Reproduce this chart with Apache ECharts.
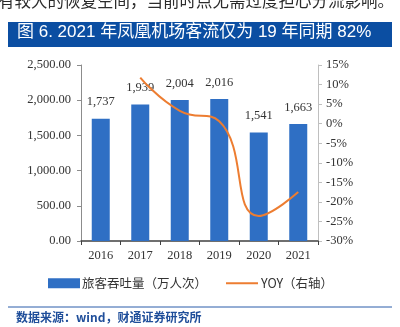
<!DOCTYPE html>
<html>
<head>
<meta charset="utf-8">
<script src="https://cdn.jsdelivr.net/npm/echarts@6/dist/echarts.min.js"></script>
<style>
  html, body { margin: 0; padding: 0; background: #fff; }
  #chart { width: 400px; height: 327px; }
</style>
</head>
<body>
<div id="chart"></div>
<script>
// 凤凰机场旅客吞吐量及同比
const years = ['2016', '2017', '2018', '2019', '2020', '2021'];
const passengers = [1737, 1939, 2004, 2016, 1541, 1663];     // 万人次
const yoy = [null, 11.8, 3.3, 0.6, -23.6, -17.5];           // %，2021 对比 2019
const leftTicks = { min: 0, max: 2500, interval: 500 };
const rightTicks = { min: -30, max: 15, interval: 5 };

const serif = '"Liberation Serif", "Times New Roman", serif';
const cjk = '"Noto Sans CJK SC", sans-serif';
const sansMix = '"Liberation Sans", "Noto Sans CJK SC", sans-serif';

const barName = '旅客吞吐量（万人次）';
const lineName = 'YOY（右轴）';

const chart = echarts.init(document.getElementById('chart'), null, { renderer: 'canvas' });

chart.setOption({
  animation: false,
  backgroundColor: '#ffffff',
  grid: { left: 81, right: 82, top: 65, bottom: 86, containLabel: false },
  legend: [
    {
      top: 277, left: 48, padding: 0,
      itemWidth: 32, itemHeight: 10,
      textStyle: { fontFamily: cjk, fontSize: 12.5, color: '#333', padding: [0, 0, 0, -3] },
      data: [{ name: barName, icon: 'rect' }]
    },
    {
      top: 277, left: 226, padding: 0,
      itemWidth: 32, itemHeight: 2,
      textStyle: { fontFamily: cjk, fontSize: 12.5, color: '#333', padding: [0, 0, 0, -2] },
      data: [{ name: lineName, icon: 'rect' }]
    }
  ],
  xAxis: {
    type: 'category',
    data: years,
    axisLine: { lineStyle: { color: '#404040', width: 1.5 } },
    axisTick: { show: true, length: 4, lineStyle: { color: '#404040' } },
    axisLabel: { fontFamily: serif, fontSize: 12.5, color: '#333', margin: 8 }
  },
  yAxis: [
    {
      type: 'value',
      min: leftTicks.min, max: leftTicks.max, interval: leftTicks.interval,
      axisLine: { show: true, lineStyle: { color: '#8c8c8c' } },
      axisTick: { show: true, length: 4, lineStyle: { color: '#8c8c8c' } },
      splitLine: { show: false },
      axisLabel: {
        fontFamily: serif, fontSize: 12.5, color: '#333', margin: 10,
        formatter: v => v.toLocaleString('en-US', { minimumFractionDigits: 2, maximumFractionDigits: 2 })
      }
    },
    {
      type: 'value',
      min: rightTicks.min, max: rightTicks.max, interval: rightTicks.interval,
      axisLine: { show: true, lineStyle: { color: '#bfbfbf' } },
      axisTick: { show: true, length: 4, lineStyle: { color: '#bfbfbf' } },
      splitLine: { show: false },
      axisLabel: { fontFamily: serif, fontSize: 12.5, color: '#333', margin: 8, formatter: '{value}%' }
    }
  ],
  series: [
    {
      name: barName,
      type: 'bar',
      data: passengers,
      barWidth: 18,
      itemStyle: { color: '#2f6fc4' },
      label: {
        show: true, position: 'top', distance: 10,
        fontFamily: serif, fontSize: 12.5, color: '#333',
        formatter: p => p.value.toLocaleString('en-US')
      }
    },
    {
      name: lineName,
      type: 'line',
      yAxisIndex: 1,
      data: yoy,
      smooth: 0.5,
      symbol: 'none',
      lineStyle: { color: '#ed7d31', width: 2 },
      itemStyle: { color: '#ed7d31' }
    }
  ],
  graphic: [
    {
      type: 'text', left: -2, top: -8,
      style: { text: '有较大的恢复空间，当前时点无需过度担心分流影响。', font: '16.5px ' + cjk, fill: '#2b2b2b' }
    },
    {
      type: 'rect', shape: { x: 8, y: 22, width: 384, height: 25 },
      style: { fill: '#0b4ea2' }
    },
    {
      type: 'text', left: 17, top: 24,
      style: { text: '图 6. 2021 年凤凰机场客流仅为 19 年同期 82%', font: '17px ' + sansMix, fill: '#ffffff' }
    },
    {
      type: 'line', shape: { x1: 8, y1: 307, x2: 392, y2: 307 },
      style: { stroke: '#2a5caa', lineWidth: 1 }
    },
    {
      type: 'text', left: 16, top: 311,
      style: { text: '数据来源：wind，财通证券研究所', font: 'bold 12px ' + cjk, fill: '#1f4e9a' }
    }
  ]
});
</script>
</body>
</html>
